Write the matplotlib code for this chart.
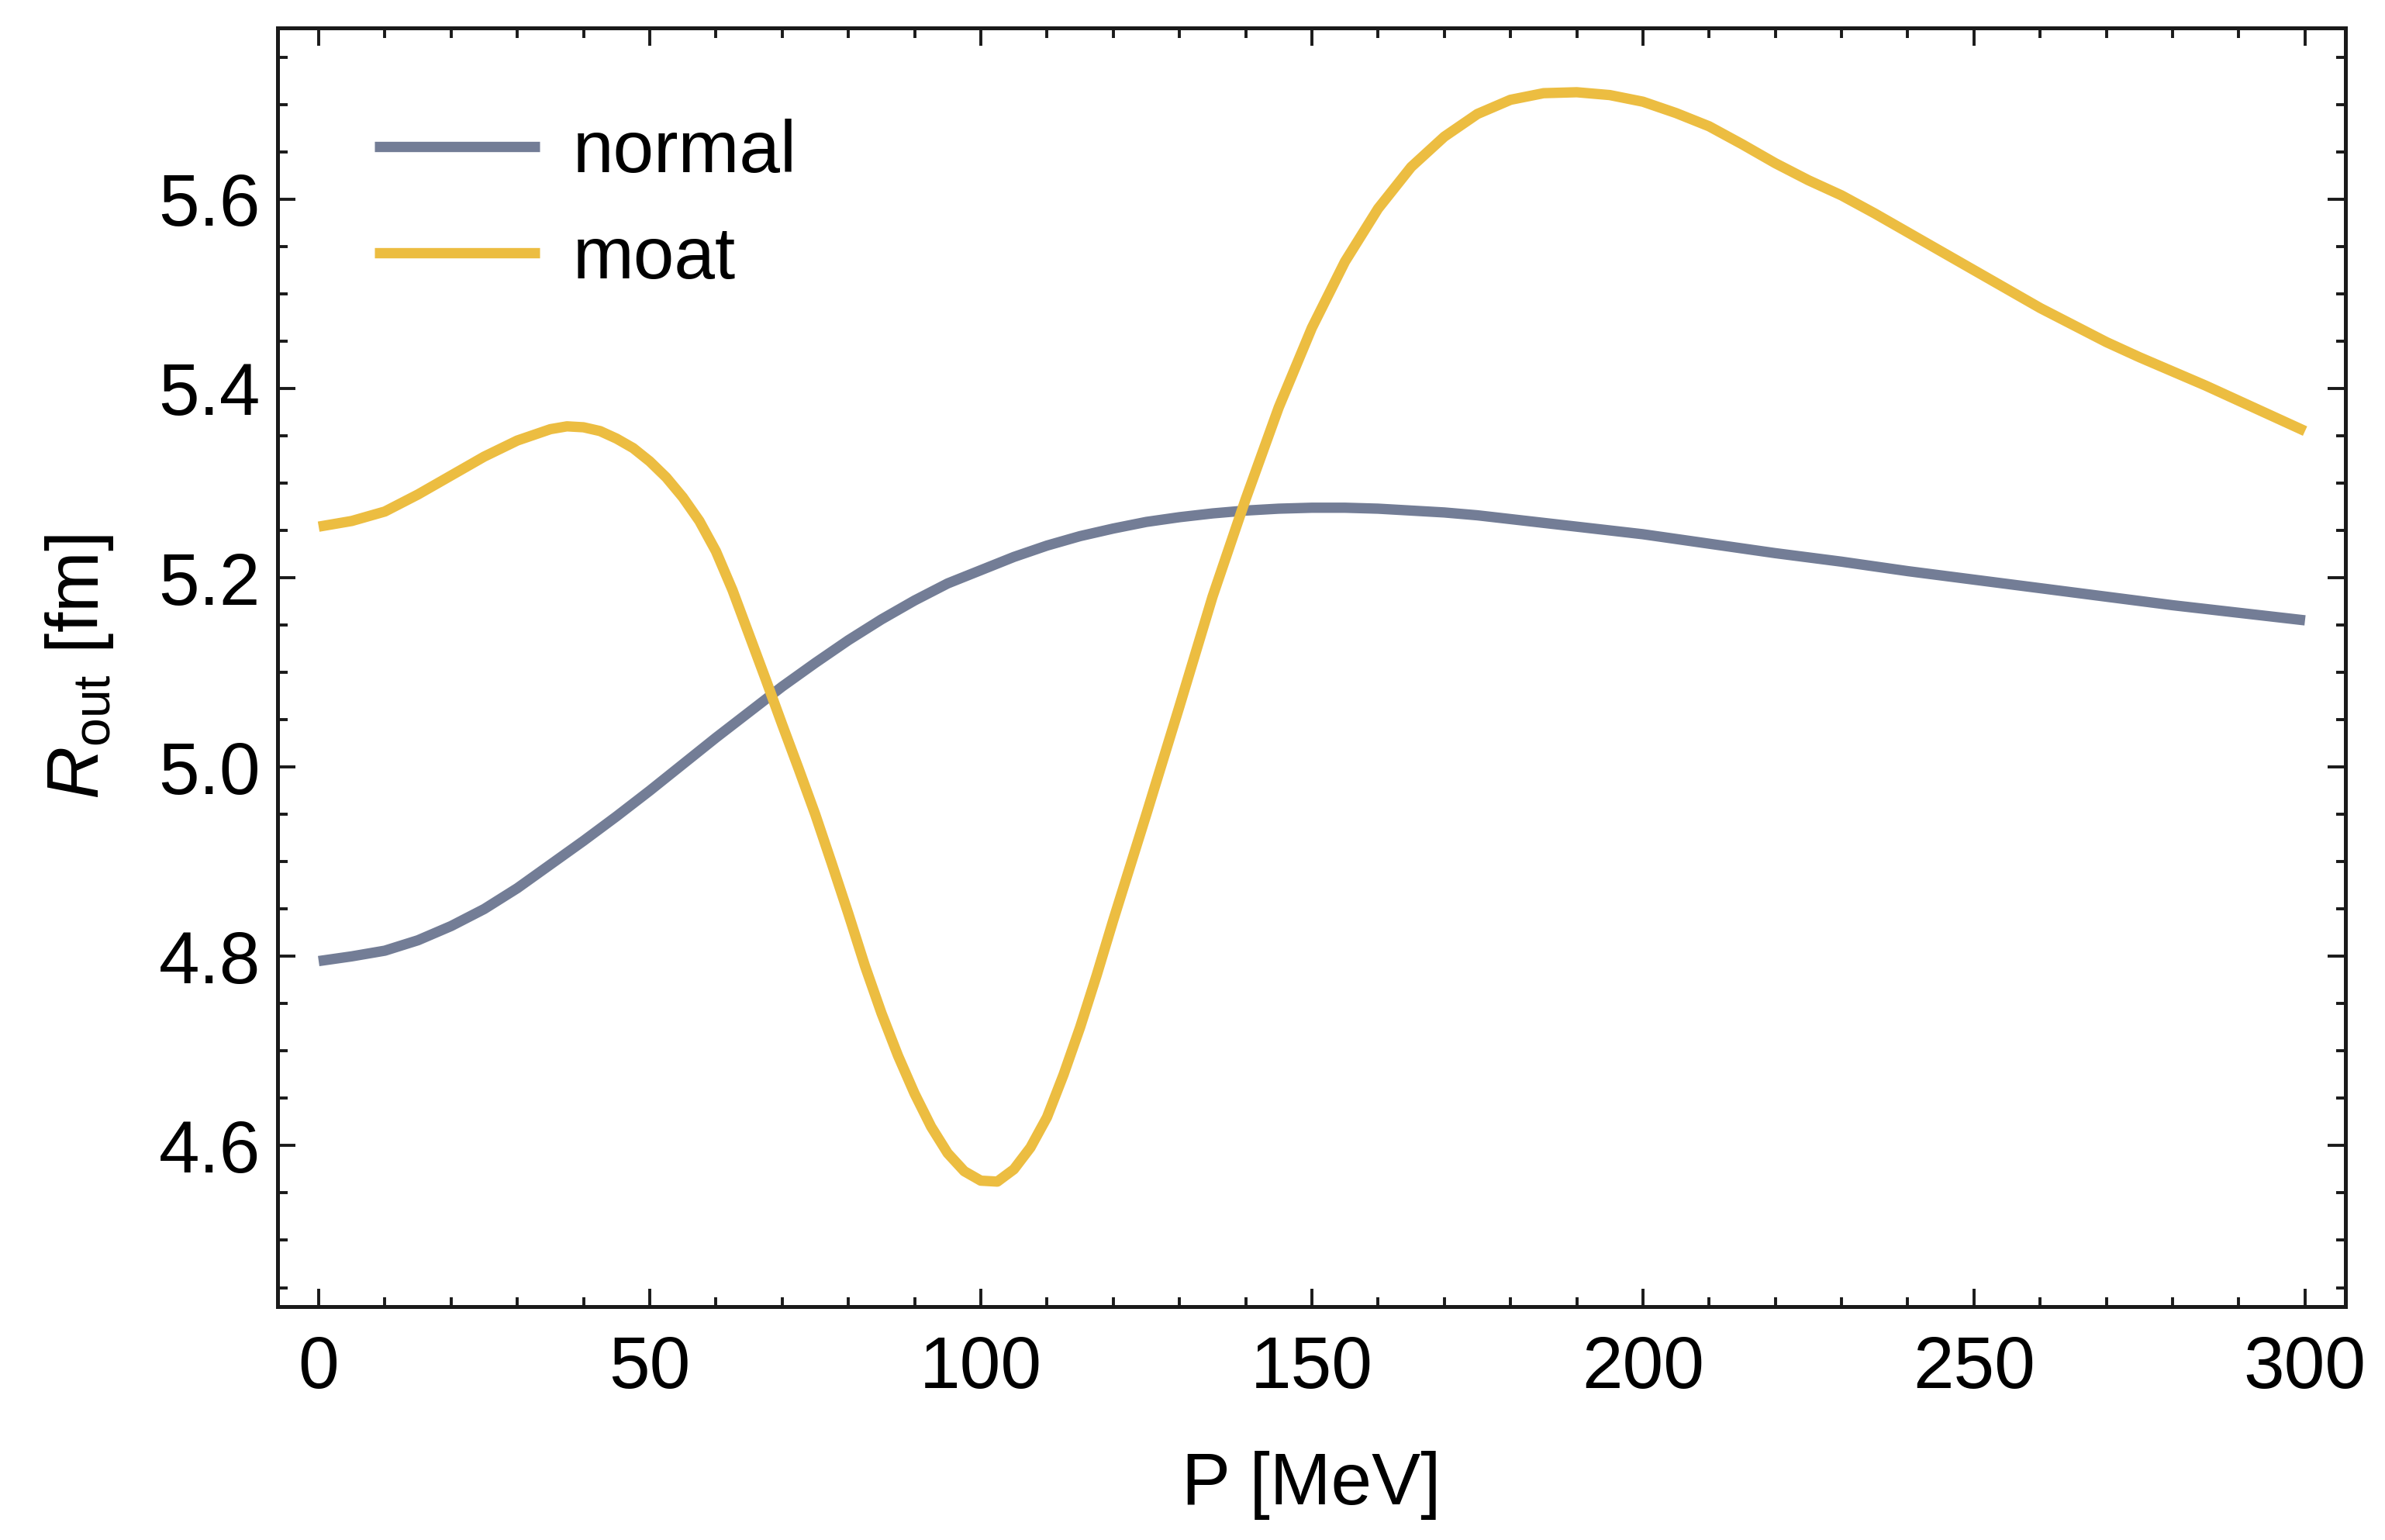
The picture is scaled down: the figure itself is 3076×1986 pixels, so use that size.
import matplotlib
matplotlib.use("Agg")
import matplotlib.pyplot as plt
from matplotlib.ticker import MultipleLocator

plt.rcParams['font.family'] = ['Liberation Sans', 'DejaVu Sans']
plt.rcParams['mathtext.fontset'] = 'custom'
plt.rcParams['mathtext.rm'] = 'Liberation Sans'
plt.rcParams['mathtext.it'] = 'Liberation Sans:italic'

# values
p_normal = [0, 5, 10, 15, 20, 25, 30, 35, 40, 45, 50, 55, 60, 65, 70, 75, 80, 85, 90, 95,
            100, 105, 110, 115, 120, 125, 130, 135, 140, 145, 150, 155, 160, 165, 170, 175,
            180, 185, 190, 195, 200, 210, 220, 230, 240, 250, 260, 270, 280, 290, 300]
r_normal = [4.795, 4.800, 4.806, 4.817, 4.832, 4.850, 4.872, 4.897, 4.922, 4.948, 4.975,
            5.003, 5.031, 5.058, 5.085, 5.110, 5.134, 5.156, 5.176, 5.194, 5.208, 5.222,
            5.234, 5.244, 5.252, 5.259, 5.264, 5.268, 5.271, 5.273, 5.274, 5.274, 5.273,
            5.271, 5.269, 5.266, 5.262, 5.258, 5.254, 5.250, 5.246, 5.236, 5.226, 5.217,
            5.207, 5.198, 5.189, 5.180, 5.171, 5.163, 5.155]

p_moat = [0, 5, 10, 15, 20, 25, 30, 35, 37.5, 40, 42.5, 45, 47.5, 50, 52.5, 55, 57.5, 60,
          62.5, 65, 67.5, 70, 72.5, 75, 77.5, 80, 82.5, 85, 87.5, 90, 92.5, 95, 97.5, 100,
          102.5, 105, 107.5, 110, 112.5, 115, 117.5, 120, 125, 130, 135, 140, 145, 150,
          155, 160, 165, 170, 175, 180, 185, 190, 195, 200, 205, 210, 215, 220, 225, 230,
          235, 240, 245, 250, 255, 260, 265, 270, 275, 280, 285, 290, 295, 300]
r_moat = [5.254, 5.260, 5.270, 5.288, 5.308, 5.328, 5.345, 5.357, 5.360, 5.359, 5.355,
          5.347, 5.337, 5.323, 5.306, 5.285, 5.260, 5.228, 5.187, 5.140, 5.093, 5.045,
          4.998, 4.950, 4.898, 4.845, 4.790, 4.740, 4.695, 4.655, 4.620, 4.592, 4.573,
          4.563, 4.562, 4.575, 4.598, 4.630, 4.675, 4.725, 4.780, 4.838, 4.950, 5.064,
          5.180, 5.283, 5.380, 5.464, 5.534, 5.590, 5.634, 5.666, 5.690, 5.705, 5.712,
          5.713, 5.710, 5.703, 5.691, 5.677, 5.658, 5.638, 5.620, 5.604, 5.585, 5.565,
          5.545, 5.525, 5.505, 5.485, 5.467, 5.449, 5.433, 5.418, 5.403, 5.387, 5.371,
          5.355]

c_normal = '#737d96'
c_moat = '#ecbd41'

fig = plt.figure(figsize=(15.38, 9.93), dpi=200)
ax = fig.add_axes([0.1164, 0.1516, 0.867, 0.8303])

ax.plot(p_normal, r_normal, color=c_normal, lw=4.8, label='normal',
        solid_capstyle='butt', solid_joinstyle='round')
ax.plot(p_moat, r_moat, color=c_moat, lw=4.8, label='moat',
        solid_capstyle='butt', solid_joinstyle='round')

ax.set_xlim(-6.2, 306.1)
ax.set_ylim(4.430, 5.781)

ax.xaxis.set_major_locator(MultipleLocator(50))
ax.xaxis.set_minor_locator(MultipleLocator(10))
ax.yaxis.set_major_locator(MultipleLocator(0.2))
ax.yaxis.set_minor_locator(MultipleLocator(0.05))
ax.yaxis.set_major_formatter(plt.FormatStrFormatter('%.1f'))

ax.tick_params(which='both', direction='in', top=True, right=True, color='#1a1a1a',
               labelsize=34)
ax.tick_params(which='major', length=8.4, width=1.4)
ax.tick_params(which='minor', length=4.5, width=1.4)
ax.tick_params(axis='x', pad=13)
ax.tick_params(axis='y', pad=8)
for s in ax.spines.values():
    s.set_linewidth(1.8)
    s.set_color('#1a1a1a')

ax.set_xlabel('P [MeV]', fontsize=34, labelpad=22)
ax.set_ylabel(r'$R_{\rm out}$ [fm]', fontsize=34, labelpad=20)

ax.legend(loc='upper left', bbox_to_anchor=(0.047, 0.929), frameon=False, fontsize=34,
          handlelength=2.25, handletextpad=0.45, labelspacing=0.51,
          borderpad=0, borderaxespad=0)

fig.savefig('out.png', dpi=200)
